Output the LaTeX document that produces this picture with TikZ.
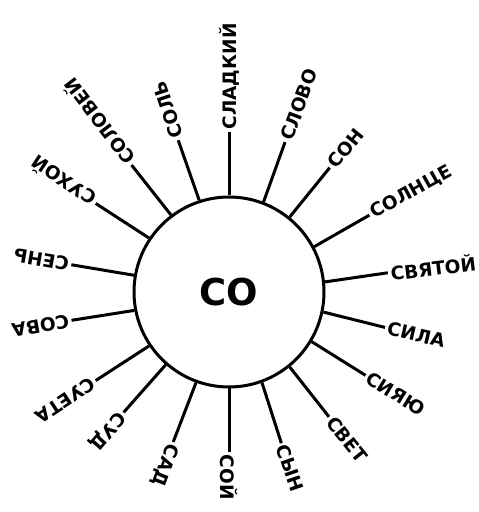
\documentclass[tikz,border=0pt]{standalone}
\usepackage{fontspec}
\setmainfont{DejaVu Sans}
\tikzset{
  spoke/.style={line width=3pt},
  word/.style={font=\bfseries\fontsize{18.5}{18.5}\selectfont,anchor=west,inner sep=2.5pt},
}

\begin{document}
\begin{tikzpicture}[x=1pt,y=1pt]
  \useasboundingbox (0,0) rectangle (479,512);
  % the syllable in the middle, words around it
  \node[draw,circle,line width=3pt,minimum size=190pt,inner sep=0pt,
        font=\bfseries\fontsize{37}{37}\selectfont] (co) at (229,220) {СО};
  \foreach \a/\w [count=\i] in {90/СЛАДКИЙ,69.5/СЛОВО,51/СОН,28.7/СОЛНЦЕ,6.9/СВЯТОЙ,
      -12.8/СИЛА,-31.4/СИЯЮ,-51.3/СВЕТ,-70.9/СЫН,-90/СОЙ,-110.4/САД,-131.2/СУД,
      -146.4/СУЕТА,-169.8/СОВА,170.2/СЕНЬ,146.4/СУХОЙ,127.5/СОЛОВЕЙ,108.5/СОЛЬ} {
    \node[word,rotate=\a] (w\i) at ([shift={(\a:160)}]co.center) {\w};
    \draw[spoke] (co.\a) -- (w\i.west);
  }
\end{tikzpicture}
\end{document}
